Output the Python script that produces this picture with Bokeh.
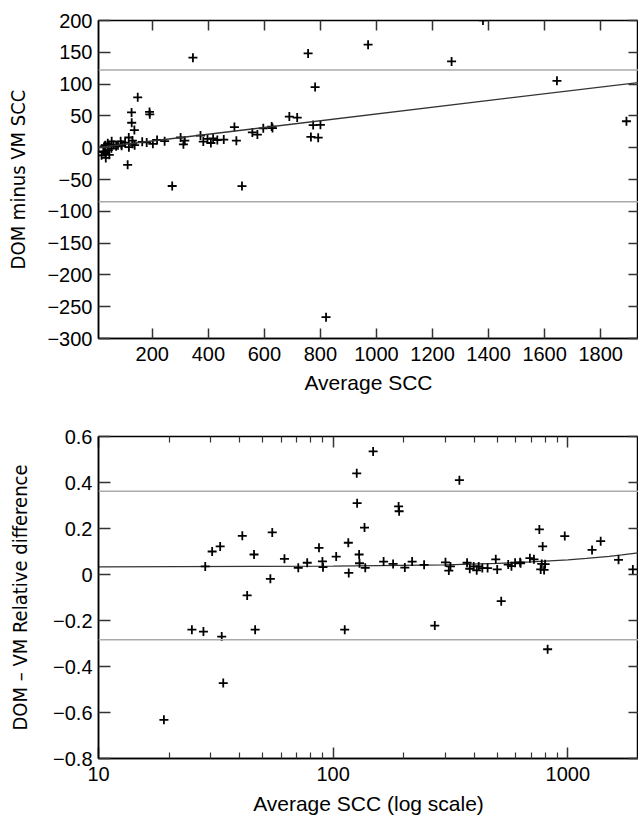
from bokeh.plotting import figure
from bokeh.layouts import column
from bokeh.models import (Range1d, FixedTicker, LinearAxis, LogAxis, Span, Slope,
                          CustomJSTickFormatter, ColumnDataSource)
from bokeh.embed import file_html
from bokeh.resources import INLINE

# ---- data ----
avg_scc = [19, 25, 28, 28.5, 30.5, 33, 33.5, 34, 41, 43,
           46, 46.5, 54, 55, 62, 71, 77.5, 87, 90, 90.5,
           103, 112, 116, 116.5, 126, 126.5, 129, 129.5, 136, 137,
           148, 164, 180, 190, 191, 202, 217, 244, 271, 301,
           311, 316, 345, 372, 382, 397, 409, 417, 432, 455,
           493, 500, 520, 557, 575, 596, 626, 629, 689, 717,
           756, 766, 774, 781, 792, 800, 820, 970, 1268, 1380,
           1644, 1892]
diff_scc = [-12.0, -6.0, -6.9, 1.0, 3.1, 4.0, -9.0, -16.0, 6.9, -3.9,
            4.0, -11.2, -1.0, 10.1, 4.2, 2.1, 4.0, 10.1, 5.1, 2.9,
            8.0, -26.9, 16.0, 0.8, 55.4, 39.2, 11.2, 6.3, 27.7, 4.0,
            79.2, 9.2, 8.3, 56.2, 52.5, 6.1, 12.2, 10.2, -60.2, 16.0,
            5.3, 11.1, 141.5, 19.0, 9.6, 13.9, 7.4, 14.6, 12.1, 12.7,
            32.5, 11.0, -60.3, 24.0, 20.7, 30.4, 33.2, 30.8, 48.9, 47.3,
            148.2, 16.9, 35.6, 95.3, 15.8, 36.0, -266.5, 162.0, 135.7, 200.1,
            105.2, 41.6]
rel_diff = [-0.632, -0.240, -0.248, 0.035, 0.100, 0.122, -0.270, -0.472, 0.168, -0.091,
            0.087, -0.240, -0.019, 0.183, 0.068, 0.029, 0.051, 0.116, 0.057, 0.032,
            0.078, -0.240, 0.138, 0.007, 0.440, 0.310, 0.087, 0.049, 0.204, 0.029,
            0.535, 0.056, 0.046, 0.296, 0.275, 0.030, 0.056, 0.042, -0.222, 0.053,
            0.017, 0.035, 0.410, 0.051, 0.025, 0.035, 0.018, 0.035, 0.028, 0.028,
            0.066, 0.022, -0.116, 0.043, 0.036, 0.051, 0.053, 0.049, 0.071, 0.066,
            0.196, 0.022, 0.046, 0.122, 0.020, 0.045, -0.325, 0.167, 0.107, 0.145,
            0.064, 0.022]

upper_loa_abs = 122
lower_loa_abs = -85
fit_abs_gradient = 0.053
fit_abs_intercept = 0.0

upper_loa_rel = 0.362
lower_loa_rel = -0.284
fit_rel_x = [10, 100, 300, 500, 700, 1000, 1200, 1500, 1700, 2000]
fit_rel_y = [0.033, 0.036, 0.042, 0.048, 0.055, 0.064, 0.070, 0.079, 0.085, 0.094]

x_ticks_abs = [200, 400, 600, 800, 1000, 1200, 1400, 1600, 1800]
y_ticks_abs = [-300, -250, -200, -150, -100, -50, 0, 50, 100, 150, 200]
x_ticks_log = [10, 100, 1000]
x_minor_log = [20, 30, 40, 50, 60, 70, 80, 90, 200, 300, 400, 500, 600, 700, 800, 900, 2000]
y_ticks_rel = [-0.8, -0.6, -0.4, -0.2, 0, 0.2, 0.4, 0.6]

TICK_FONT = "Liberation Sans"
LABEL_FONT = "Liberation Sans"
YLABEL_FONT = "'DejaVu Sans Condensed', 'Liberation Sans Narrow', 'Liberation Sans', sans-serif"
TICK_COLOR = "#333333"
LOA_COLOR = "#aaaaaa"

abs_fmt = CustomJSTickFormatter(code="return (tick < 0 ? '\\u2212' : '') + Math.abs(tick).toString();")
rel_fmt = CustomJSTickFormatter(code="if (Math.abs(tick) < 1e-9) return '0'; return (tick < 0 ? '\\u2212' : '') + Math.abs(tick).toFixed(1);")
log_fmt = CustomJSTickFormatter(code="return Math.round(tick).toString();")


def style_axis(ax, tick_in, minor_in=0, labels=True, line=True, standoff=6):
    ax.major_tick_in = tick_in
    ax.major_tick_out = 0
    ax.minor_tick_in = minor_in
    ax.minor_tick_out = 0
    ax.major_tick_line_color = TICK_COLOR
    ax.major_tick_line_width = 1.5
    ax.minor_tick_line_color = TICK_COLOR if minor_in else None
    ax.minor_tick_line_width = 1.2
    ax.axis_line_color = "black" if line else None
    ax.axis_line_width = 1.5
    if labels:
        ax.major_label_text_font = TICK_FONT
        ax.major_label_text_font_size = "20px"
        ax.major_label_text_color = "black"
        ax.major_label_standoff = standoff
    else:
        ax.major_label_text_font_size = "1px"
        ax.major_label_text_color = None
        ax.major_label_standoff = 0


def style_label(ax, text, font, size, standoff):
    ax.axis_label = text
    ax.axis_label_text_font = font
    ax.axis_label_text_font_size = size
    ax.axis_label_text_font_style = "normal"
    ax.axis_label_text_color = "black"
    ax.axis_label_standoff = standoff


# ---------------- top panel ----------------
src = ColumnDataSource(dict(avg=avg_scc, diff=diff_scc, rel=rel_diff))

p1 = figure(width=638, height=400, x_range=Range1d(8, 1935), y_range=Range1d(-300, 200),
            output_backend="svg", toolbar_location=None,
            min_border_left=98, min_border_right=0, min_border_top=20, min_border_bottom=62,
            background_fill_color="white", border_fill_color="white")
p1.grid.grid_line_color = None
p1.outline_line_color = "black"
p1.outline_line_width = 1.5

xa = p1.xaxis[0]
xa.ticker = FixedTicker(ticks=x_ticks_abs)
style_axis(xa, 10, standoff=8)
style_label(xa, "Average SCC", LABEL_FONT, "21px", 7)

ya = p1.yaxis[0]
ya.ticker = FixedTicker(ticks=y_ticks_abs)
ya.formatter = abs_fmt
style_axis(ya, 12, standoff=6)
style_label(ya, "DOM minus VM SCC", YLABEL_FONT, "20px", 14)

top1 = LinearAxis(ticker=FixedTicker(ticks=x_ticks_abs))
style_axis(top1, 10, labels=False, line=False)
p1.add_layout(top1, "above")
right1 = LinearAxis(ticker=FixedTicker(ticks=y_ticks_abs))
style_axis(right1, 10, labels=False, line=False)
p1.add_layout(right1, "right")

p1.add_layout(Span(location=upper_loa_abs, dimension="width", line_color=LOA_COLOR, line_width=1.5))
p1.add_layout(Span(location=lower_loa_abs, dimension="width", line_color=LOA_COLOR, line_width=1.5))
p1.add_layout(Slope(gradient=fit_abs_gradient, y_intercept=fit_abs_intercept,
                    line_color="#333333", line_width=1.3))
p1.scatter("avg", "diff", source=src, marker="cross", size=9, line_width=1.8, line_color="black")

# ---------------- bottom panel ----------------
p2 = figure(width=638, height=417, x_axis_type="log",
            x_range=Range1d(10, 2000), y_range=Range1d(-0.8, 0.6),
            output_backend="svg", toolbar_location=None,
            min_border_left=98, min_border_right=0, min_border_top=36, min_border_bottom=59,
            background_fill_color="white", border_fill_color="white")
p2.grid.grid_line_color = None
p2.outline_line_color = "black"
p2.outline_line_width = 1.5

xb = p2.xaxis[0]
xb.ticker = FixedTicker(ticks=x_ticks_log, minor_ticks=x_minor_log)
xb.formatter = log_fmt
style_axis(xb, 11, minor_in=6, standoff=8)
style_label(xb, "Average SCC (log scale)", LABEL_FONT, "21px", 8)

yb = p2.yaxis[0]
yb.ticker = FixedTicker(ticks=y_ticks_rel)
yb.formatter = rel_fmt
style_axis(yb, 12, standoff=6)
style_label(yb, "DOM \u2013 VM Relative difference", YLABEL_FONT, "20px", 18)

top2 = LogAxis(ticker=FixedTicker(ticks=x_ticks_log, minor_ticks=x_minor_log))
style_axis(top2, 11, minor_in=6, labels=False, line=False)
p2.add_layout(top2, "above")
right2 = LinearAxis(ticker=FixedTicker(ticks=y_ticks_rel))
style_axis(right2, 10, labels=False, line=False)
p2.add_layout(right2, "right")

p2.add_layout(Span(location=upper_loa_rel, dimension="width", line_color=LOA_COLOR, line_width=1.5))
p2.add_layout(Span(location=lower_loa_rel, dimension="width", line_color=LOA_COLOR, line_width=1.5))
p2.line(fit_rel_x, fit_rel_y, line_color="#333333", line_width=1.3)
p2.scatter("avg", "rel", source=src, marker="cross", size=9, line_width=1.8, line_color="black")

layout = column(p1, p2, spacing=0)
open("out.html", "w").write(file_html(layout, INLINE))
